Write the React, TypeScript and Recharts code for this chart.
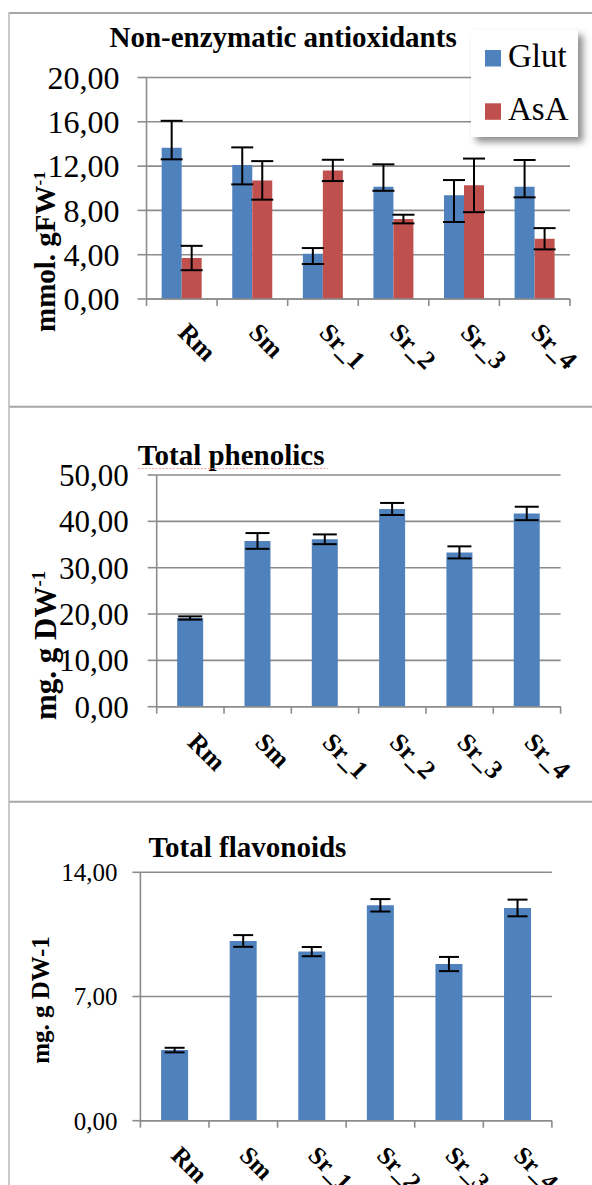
import React from 'react';
import { BarChart, Bar, XAxis, YAxis, CartesianGrid, ErrorBar, Legend } from 'recharts';

// ---------- data ----------
const categories = ['Rm', 'Sm', 'Sr_1', 'Sr_2', 'Sr_3', 'Sr_4'];
const seriesNames = ['Glut', 'AsA'];

const glutValues = [13.66, 12.09, 4.09, 10.14, 9.36, 10.14];
// [minus, plus]
const glutErrors = [[1.05, 2.43], [1.74, 1.6], [0.93, 0.51], [0.37, 2.02], [2.41, 1.38], [0.96, 2.41]];
const asaValues = [3.7, 10.71, 11.61, 7.22, 10.26, 5.44];
const asaErrors = [1.1, 1.74, 0.96, 0.39, 2.42, 0.96];

const phenolicsValues = [19.14, 35.77, 36.13, 42.67, 33.3, 41.7];
const phenolicsErrors = [0.35, 1.7, 1.05, 1.3, 1.3, 1.45];

const flavonoidsValues = [3.98, 10.13, 9.53, 12.14, 8.83, 11.99];
const flavonoidsErrors = [0.13, 0.33, 0.26, 0.35, 0.4, 0.47];

const ticksAntiox = [0, 4, 8, 12, 16, 20];
const ticksPhenolics = [0, 10, 20, 30, 40, 50];
const ticksFlavonoids = [0, 7, 14];

// ---------- styles ----------
const SERIF = '"Liberation Serif", "Times New Roman", serif';
const BLUE = '#4F81BD';
const RED = '#C0504D';
const AXIS = '#8c8c8c';
const FRAME = '#a6a6a6';

const fmt = (v: number) => v.toFixed(2).replace('.', ',');

const dataAntiox = categories.map((name, i) => ({
  name,
  glut: glutValues[i],
  asa: asaValues[i],
  glutErr: glutErrors[i],
  asaErr: asaErrors[i],
}));
const dataPhenolics = categories.map((name, i) => ({ name, value: phenolicsValues[i], err: phenolicsErrors[i] }));
const dataFlavonoids = categories.map((name, i) => ({ name, value: flavonoidsValues[i], err: flavonoidsErrors[i] }));

const makeXTick = (fontSize: number, dx: number, dy: number) => (props: any) => {
  const { x, y, payload, index } = props;
  const off = payload && payload.offset != null ? payload.offset : 0;
  return (
    <g>
      <line x1={x - off} y1={y} x2={x - off} y2={y + 7} stroke={AXIS} strokeWidth={1.6} />
      {index === categories.length - 1 && (
        <line x1={x + off} y1={y} x2={x + off} y2={y + 7} stroke={AXIS} strokeWidth={1.6} />
      )}
      <text
        transform={`translate(${x + dx},${y + dy}) rotate(45)`}
        fontFamily={SERIF}
        fontWeight="bold"
        fontSize={fontSize}
        fill="#000"
        textAnchor="start"
      >
        {payload.value}
      </text>
    </g>
  );
};

const makeYTick = (fontSize: number) => (props: any) => {
  const { x, y, payload } = props;
  return (
    <text x={x} y={y} dy="0.355em" textAnchor="end" fontFamily={SERIF} fontSize={fontSize} fill="#000">
      {fmt(payload.value)}
    </text>
  );
};

const LegendBox = (props: any) => {
  const items = [...(props.payload || [])].sort(
    (a: any, b: any) => seriesNames.indexOf(a.value) - seriesNames.indexOf(b.value)
  );
  return (
    <div style={{ width: 107, height: 107, background: '#fff', boxShadow: '5px 5px 7px rgba(0,0,0,0.45)' }}>
      <svg width={107} height={107}>
        {items.map((it: any, i: number) => (
          <g key={i}>
            <rect x={14} y={20 + i * 53.3} width={16} height={16.5} fill={it.color} />
            <text x={37} y={36.7 + i * 53.3} fontFamily={SERIF} fontSize={33} fill="#000">
              {it.value}
            </text>
          </g>
        ))}
      </svg>
    </div>
  );
};

export default function App() {
  return (
    <div
      style={{
        position: 'absolute',
        left: 0,
        top: 0,
        width: 592,
        height: 1185,
        background: '#fff',
        overflow: 'hidden',
      }}
    >
      {/* Chart 1 */}
      <div style={{ position: 'absolute', left: 0, top: 0 }}>
        <BarChart
          width={592}
          height={410}
          data={dataAntiox}
          margin={{ top: 77.5, right: 22, bottom: 11, left: 0 }}
          barCategoryGap="21.5%"
          barGap={0}
        >
          <CartesianGrid vertical={false} stroke={AXIS} strokeWidth={1.6} />
          <XAxis
            dataKey="name"
            height={100}
            tickLine={false}
            tickSize={0}
            tickMargin={0}
            interval={0}
            axisLine={{ stroke: AXIS, strokeWidth: 1.6 }}
            tick={makeXTick(26, -5, 35)}
          />
          <YAxis
            width={146.5}
            domain={[0, 20]}
            ticks={ticksAntiox}
            interval={0}
            tickSize={9}
            tickMargin={18}
            tickLine={{ stroke: AXIS, strokeWidth: 1.6 }}
            axisLine={{ stroke: AXIS, strokeWidth: 1.6 }}
            tick={makeYTick(32)}
          />
          <Legend
            layout="vertical"
            align="center"
            verticalAlign="middle"
            wrapperStyle={{ position: 'absolute', left: 471, top: 30, width: 107, height: 107 }}
            content={LegendBox}
          />
          <Bar dataKey="glut" name={seriesNames[0]} fill={BLUE} isAnimationActive={false}>
            <ErrorBar dataKey="glutErr" width={11} strokeWidth={2} stroke="#000" direction="y" />
          </Bar>
          <Bar dataKey="asa" name={seriesNames[1]} fill={RED} isAnimationActive={false}>
            <ErrorBar dataKey="asaErr" width={11} strokeWidth={2} stroke="#000" direction="y" />
          </Bar>
        </BarChart>
      </div>

      {/* Chart 2 */}
      <div style={{ position: 'absolute', left: 0, top: 410 }}>
        <BarChart
          width={592}
          height={392}
          data={dataPhenolics}
          margin={{ top: 65, right: 31.4, bottom: 5.3, left: 0 }}
          barCategoryGap="30.4%"
        >
          <CartesianGrid vertical={false} stroke={AXIS} strokeWidth={1.6} />
          <XAxis
            dataKey="name"
            height={90}
            tickLine={false}
            tickSize={0}
            tickMargin={0}
            interval={0}
            axisLine={{ stroke: AXIS, strokeWidth: 1.6 }}
            tick={makeXTick(26, -4, 37)}
          />
          <YAxis
            width={156.7}
            domain={[0, 50]}
            ticks={ticksPhenolics}
            interval={0}
            tickSize={9}
            tickMargin={19}
            tickLine={{ stroke: AXIS, strokeWidth: 1.6 }}
            axisLine={{ stroke: AXIS, strokeWidth: 1.6 }}
            tick={makeYTick(31)}
          />
          <Bar dataKey="value" fill={BLUE} isAnimationActive={false}>
            <ErrorBar dataKey="err" width={12} strokeWidth={2} stroke="#000" direction="y" />
          </Bar>
        </BarChart>
      </div>

      {/* Chart 3 */}
      <div style={{ position: 'absolute', left: 0, top: 802 }}>
        <BarChart
          width={592}
          height={383}
          data={dataFlavonoids}
          margin={{ top: 70.3, right: 40.1, bottom: 4.3, left: 0 }}
          barCategoryGap="30.2%"
        >
          <CartesianGrid vertical={false} stroke={AXIS} strokeWidth={1.6} />
          <XAxis
            dataKey="name"
            height={60}
            tickLine={false}
            tickSize={0}
            tickMargin={0}
            interval={0}
            axisLine={{ stroke: AXIS, strokeWidth: 1.6 }}
            tick={makeXTick(25, -5, 36)}
          />
          <YAxis
            width={140.4}
            domain={[0, 14]}
            ticks={ticksFlavonoids}
            interval={0}
            tickSize={8}
            tickMargin={15}
            tickLine={{ stroke: AXIS, strokeWidth: 1.6 }}
            axisLine={{ stroke: AXIS, strokeWidth: 1.6 }}
            tick={makeYTick(25)}
          />
          <Bar dataKey="value" fill={BLUE} isAnimationActive={false}>
            <ErrorBar dataKey="err" width={10} strokeWidth={2} stroke="#000" direction="y" />
          </Bar>
        </BarChart>
      </div>

      {/* Frames, titles and axis titles */}
      <svg
        width={592}
        height={1185}
        style={{ position: 'absolute', left: 0, top: 0, pointerEvents: 'none' }}
      >
        <line x1={9} y1={13} x2={592} y2={13} stroke={FRAME} strokeWidth={2} />
        <line x1={9} y1={406.7} x2={592} y2={406.7} stroke={FRAME} strokeWidth={2} />
        <line x1={9} y1={801.7} x2={592} y2={801.7} stroke={FRAME} strokeWidth={2} />
        <line x1={9} y1={12} x2={9} y2={1185} stroke="#b8b8b8" strokeWidth={1.5} />

        <text x={109.5} y={46.5} fontFamily={SERIF} fontWeight="bold" fontSize={29} fill="#000">
          Non-enzymatic antioxidants
        </text>
        <text x={137.8} y={465} fontFamily={SERIF} fontWeight="bold" fontSize={29} fill="#000">
          Total phenolics
        </text>
        <line x1={138} y1={468.5} x2={328} y2={468.5} stroke="#f2a5a5" strokeWidth={1} strokeDasharray="2 1.5" />
        <text x={148.4} y={857} fontFamily={SERIF} fontWeight="bold" fontSize={29} fill="#000">
          Total flavonoids
        </text>

        <text transform="translate(55,332) rotate(-90)" fontFamily={SERIF} fontWeight="bold" fontSize={29} fill="#000">
          mmol. gFW
          <tspan fontSize={17} dy={-10}>-1</tspan>
        </text>
        <text transform="translate(56,720) rotate(-90)" fontFamily={SERIF} fontWeight="bold" fontSize={31} fill="#000">
          mg. g DW
          <tspan fontSize={19} dy={-11}>-1</tspan>
        </text>
        <text
          transform="translate(49,1000) rotate(-90)"
          textAnchor="middle"
          fontFamily={SERIF}
          fontWeight="bold"
          fontSize={25}
          fill="#000"
        >
          mg. g DW-1
        </text>
      </svg>
    </div>
  );
}
